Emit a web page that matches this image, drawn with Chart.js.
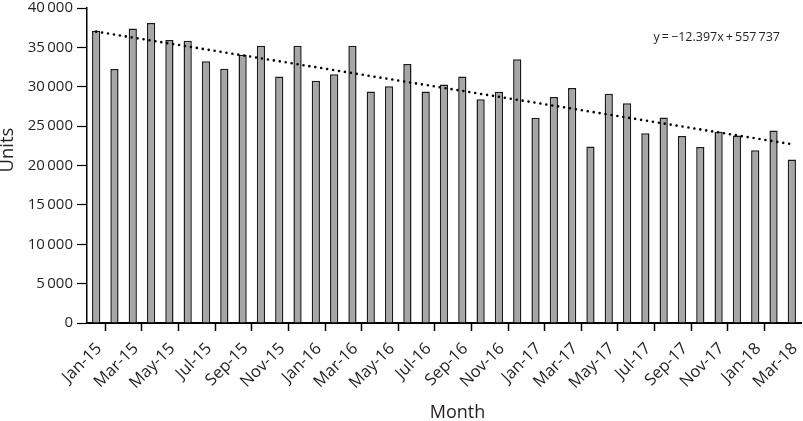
<!DOCTYPE html>
<html><head><meta charset="utf-8">
<script src="https://cdn.jsdelivr.net/npm/chart.js@4/dist/chart.umd.min.js"></script>
<style>html,body{margin:0;padding:0;background:#fff}#wrap{width:803px;height:421px}</style>
</head><body><div id="wrap"><canvas id="c"></canvas></div>
<script>
const months = ['Jan-15','Feb-15','Mar-15','Apr-15','May-15','Jun-15','Jul-15','Aug-15','Sep-15','Oct-15','Nov-15','Dec-15',
  'Jan-16','Feb-16','Mar-16','Apr-16','May-16','Jun-16','Jul-16','Aug-16','Sep-16','Oct-16','Nov-16','Dec-16',
  'Jan-17','Feb-17','Mar-17','Apr-17','May-17','Jun-17','Jul-17','Aug-17','Sep-17','Oct-17','Nov-17','Dec-17',
  'Jan-18','Feb-18','Mar-18'];
const units = [37100,32250,37400,38100,35950,35850,33250,32300,34050,35200,31300,35200,
  30750,31600,35200,29400,30050,32900,29400,30300,31300,28400,29350,33500,
  26050,28700,29850,22400,29100,27900,24100,26100,23750,22350,24300,23800,
  21950,24450,20750];
// Linear trend endpoints as drawn (y = -12.397x + 557737)
const trendStart = 37000;
const trendEnd = 22700;
const trendLabel = 'y\u2009=\u2009\u221212.397x\u2009+\u2009557\u2009737';
const yTicks = [0,5000,10000,15000,20000,25000,30000,35000,40000];

const trend = months.map((m,i)=> i===0 ? trendStart : (i===months.length-1 ? trendEnd : null));
const fmt = v => { const s = String(v); return s.length>3 ? s.slice(0,-3)+'\u2009'+s.slice(-3) : s; };
const FONT = '"Open Sans", "Noto Sans", sans-serif';
const TXT = '#231f20';

const eqPlugin = {
  id:'eq',
  afterDatasetsDraw(chart){
    const {ctx, chartArea, scales} = chart;
    ctx.save();
    ctx.font = '12.5px ' + FONT;
    ctx.fillStyle = TXT;
    ctx.textAlign = 'right';
    ctx.textBaseline = 'middle';
    ctx.fillText(trendLabel, chartArea.right - 21, scales.y.getPixelForValue(36300));
    ctx.restore();
  }
};

new Chart(document.getElementById('c'), {
  data: {
    labels: months,
    datasets: [
      { type:'line', data: trend, spanGaps:true, borderColor:'#000', borderWidth:2.6,
        borderDash:[0,6], borderCapStyle:'round', pointRadius:0, fill:false, order:0 },
      { type:'bar', data: units, backgroundColor:'#a6a6a6', borderColor:'#1a1a1a', borderWidth:1.5,
        barPercentage:0.45, categoryPercentage:1, order:1 }
    ]
  },
  options: {
    responsive:true, maintainAspectRatio:false, animation:false,
    layout:{ padding:{ top:0, right:2, left:0, bottom:0 } },
    plugins:{ legend:{display:false}, tooltip:{enabled:false} },
    scales:{
      x:{
        offset:true,
        afterFit: s => { s.height = 98; s.paddingRight = 0; s.paddingLeft = 0; },
        grid:{ display:true, drawOnChartArea:false, offset:true, tickLength:8, tickWidth:1.5,
               tickColor: c => (c.index % 2 === 1 ? '#000' : 'rgba(0,0,0,0)') },
        border:{ display:true, color:'#000', width:2 },
        ticks:{ autoSkip:false, maxRotation:45, minRotation:45, labelOffset:3, padding:8,
                color:TXT, font:{ family:FONT, size:16.5 },
                callback:(v,i)=> (i % 2 === 0 ? months[i] : '') },
        title:{ display:true, text:'\u2003\u2002Month', color:TXT, font:{ family:FONT, size:18, lineHeight:0.9 }, padding:{top:0,bottom:0} }
      },
      y:{
        min:0, max:40000,
        afterFit: s => { s.width = 87; s.paddingTop = 8; s.paddingBottom = 0; },
        afterBuildTicks: s => { s.ticks = yTicks.map(v=>({value:v})); },
        grid:{ display:true, drawOnChartArea:false, tickLength:10, tickColor:'#000', tickWidth:1.2 },
        border:{ display:true, color:'#000', width:1.5 },
        ticks:{ color:TXT, font:{ family:FONT, size:15 }, padding:4, callback: v => fmt(v) },
        title:{ display:true, text:'\u2003\u2002\u2009Units', color:TXT, font:{ family:FONT, size:18.5, lineHeight:0.8 }, padding:{top:0,bottom:0} }
      }
    }
  },
  plugins:[eqPlugin]
});
</script></body></html>
